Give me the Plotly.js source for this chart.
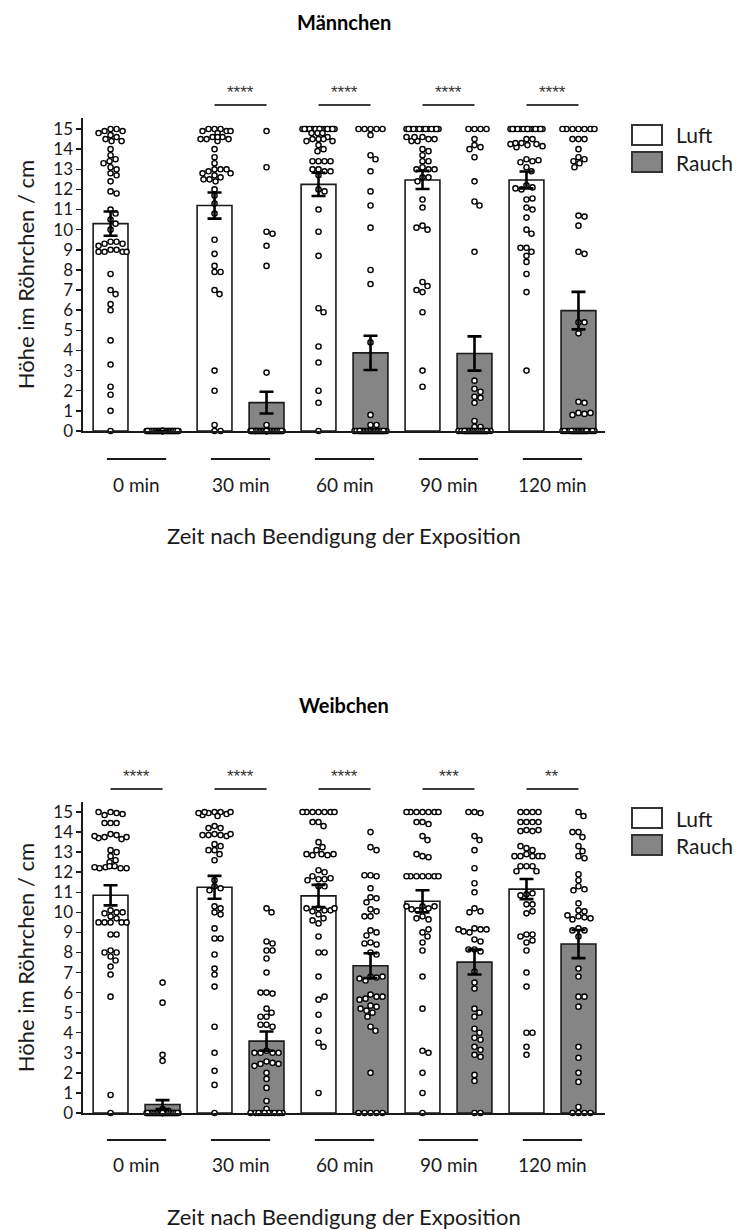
<!DOCTYPE html>
<html>
<head>
<meta charset="utf-8">
<script src="https://cdn.plot.ly/plotly-3.0.1.min.js"></script>
<style>html,body{margin:0;padding:0;background:#fff;}#chart{width:737px;height:1230px;}</style>
</head>
<body>
<div id="chart"></div>
<script>
// ---------------- DATA ----------------
const groups = ['0 min', '30 min', '60 min', '90 min', '120 min'];
const seriesNames = ['Luft', 'Rauch'];
const panelTitles = ['Männchen', 'Weibchen'];

// Männchen: means and SEM
const mLuftMean = [10.3, 11.2, 12.25, 12.47, 12.47];
const mLuftSem = [0.6, 0.65, 0.58, 0.45, 0.42];
const mRauchMean = [0, 1.41, 3.88, 3.85, 5.98];
const mRauchSem = [0, 0.54, 0.85, 0.85, 0.93];
const mStars = ['', '****', '****', '****', '****'];

// Weibchen: means and SEM
const wLuftMean = [10.85, 11.25, 10.82, 10.55, 11.16];
const wLuftSem = [0.5, 0.57, 0.55, 0.55, 0.5];
const wRauchMean = [0.42, 3.58, 7.34, 7.52, 8.42];
const wRauchSem = [0.22, 0.48, 0.62, 0.62, 0.7];
const wStars = ['****', '****', '****', '***', '**'];

// Individual values, Männchen
const mLuft0 = [15.0,15.0,14.9,14.9,14.8,14.7,14.6,14.5,14.4,14.4,14.0,13.7,13.5,13.4,13.3,13.1,13.0,12.8,12.7,12.4,11.9,11.8,11.0,10.8,10.5,10.3,10.0,9.4,9.4,9.3,9.3,9.2,9.0,9.0,8.9,8.9,8.9,8.9,7.8,7.0,6.8,6.3,6.0,4.5,3.3,2.2,1.8,1.0,0];
const mRauch0 = [0,0,0,0,0,0,0,0,0,0,0,0,0,0,0,0,0,0,0,0,0,0,0,0,0,0,0,0,0,0,0,0,0,0,0,0,0,0,0,0];
const mLuft30 = [15.0,15.0,15.0,14.9,14.9,14.9,14.8,14.6,14.6,14.5,14.5,14.5,14.4,14.6,14.0,13.6,13.3,13.0,13.0,12.9,13.0,12.8,12.7,12.8,12.6,12.5,12.4,12.5,12.0,11.7,11.3,10.8,9.5,8.8,8.2,7.9,7.9,7.0,6.8,3.0,2.0,0.3,0,0];
const mRauch30 = [14.9,13.1,9.9,9.8,9.2,8.2,2.9,0.3,0,0,0,0,0,0,0,0,0,0,0,0,0,0,0,0,0,0,0,0,0,0,0,0,0,0,0,0,0,0,0,0,0,0,0,0,0,0,0,0];
const mLuft60 = [15,15,15,15,15,15,15,15,15,15,15,15,15,15,14.8,14.8,14.8,14.6,14.5,14.5,14.4,14.4,14.5,14.2,14.0,13.9,13.4,13.4,13.4,13.4,13.0,12.9,13.0,12.9,12.7,12.0,11.9,11.0,9.9,8.7,6.1,5.9,4.2,3.4,2.0,1.4,0];
const mRauch60 = [15,15,15,15,15,14.7,13.7,13.5,12.9,11.9,11.2,10.1,8.0,7.3,4.4,0.8,0.3,0.3,0,0,0,0,0,0,0,0,0,0,0,0,0,0,0,0,0,0,0,0,0,0,0,0,0,0,0,0,0,0];
const mLuft90 = [15,15,15,15,15,15,15,15,15,15,15,15,15,14.6,14.5,14.4,14.4,14.5,14.6,14.6,14.0,13.9,13.7,13.4,13.4,13.1,13.0,13.0,13.0,12.6,12.6,12.4,11.5,11.1,10.2,10.0,10.1,7.4,7.2,6.9,7.0,5.9,3.0,2.2];
const mRauch90 = [15,15,15,15,14.5,14.2,14.1,14.0,13.6,12.4,11.4,11.2,8.9,2.5,2.1,1.95,1.7,1.65,1.4,0.5,0.2,0.2,0,0,0,0,0,0,0,0,0,0,0,0,0,0,0,0,0,0,0,0,0,0,0,0,0,0,0,0];
const mLuft120 = [15,15,15,15,15,15,15,15,15,15,15,15,15,15,14.5,14.5,14.3,14.25,14.2,14.1,14.15,14.25,14.3,13.5,13.4,13.35,13.45,13.1,12.9,12.2,12.1,12.0,12.05,11.5,11.55,11.1,11.0,10.6,10.0,9.8,9.1,8.9,9.1,8.7,8.4,7.8,6.9,3.0];
const mRauch120 = [15,15,15,15,15,15,15,14.5,14.5,14.5,14.0,13.6,13.5,13.4,13.3,13.1,10.7,10.65,10.2,8.9,8.8,5.4,5.4,4.85,1.45,1.4,0.9,0.85,0.8,0.9,0,0,0,0,0,0,0,0,0,0,0,0,0,0,0,0,0,0,0,0,0,0,0,0];

// Individual values, Weibchen
const wLuft0 = [15.0,14.95,14.85,14.9,15.0,14.45,14.45,14.45,13.9,13.85,13.75,13.65,13.7,13.75,13.8,13.1,13.0,12.8,12.6,12.5,12.3,12.25,12.2,12.2,12.2,12.25,12.3,10.1,10.0,9.95,10.0,9.8,9.7,9.5,9.5,9.5,9.5,9.5,8.9,8.9,8.1,8.0,8.0,7.8,7.6,7.3,6.9,5.8,0.9,0];
const wRauch0 = [6.5,5.5,2.9,2.6,0.2,0.1,0,0,0,0,0,0,0,0,0,0,0,0,0,0,0,0,0,0,0,0,0,0,0,0,0,0,0,0,0,0,0,0,0,0,0,0];
const wLuft30 = [15.0,15.0,14.95,14.9,14.85,14.8,14.95,15.0,15.0,14.3,14.2,14.2,13.9,13.85,13.85,13.8,13.85,13.9,13.4,13.3,13.1,13.1,12.9,12.6,11.6,11.3,11.2,11.1,10.3,10.2,10.0,9.9,9.2,8.7,8.7,7.9,7.2,6.9,6.3,4.3,3.0,2.1,1.4,0];
const wRauch30 = [10.2,10.0,8.55,8.45,8.1,8.1,7.7,7.0,6.0,5.95,6.0,5.2,5.0,4.8,4.8,4.4,4.3,4.4,3.1,3.0,3.0,3.0,3.0,2.57,2.5,2.45,2.45,2.35,2.0,1.7,1.25,0.6,0.2,0,0,0,0,0,0,0,0,0,0,0,0];
const wLuft60 = [15,15,15,15,15,15,15,14.5,14.3,14.5,13.5,13.25,13.1,12.9,12.85,12.85,12.9,12.9,12.1,12.0,11.65,11.8,11.65,11.7,11.6,11.3,11.3,10.2,10.1,10.05,10.1,10.2,10.2,9.9,9.7,9.45,9.6,8.8,8.0,8.0,6.8,5.65,5.8,4.9,4.1,3.5,3.3,1.0];
const wRauch60 = [14.0,13.25,13.1,11.85,11.8,11.85,11.2,10.75,10.7,10.5,10.15,10.05,9.8,9.8,9.1,9.0,8.85,8.5,8.4,8.45,8.0,7.9,6.8,6.75,6.6,6.7,6.8,5.9,5.8,5.7,5.65,5.8,5.35,5.3,5.1,5.0,5.2,4.8,4.3,4.1,2.0,0,0,0,0,0];
const wLuft90 = [15,15,15,15,15,15,15,14.5,14.4,14.5,13.8,13.6,12.8,12.75,12.9,11.8,11.8,11.8,11.8,11.8,11.8,11.8,10.3,10.2,10.1,10.15,10.3,10.3,9.8,9.65,9.7,9.0,9.15,8.8,8.5,8.1,6.8,5.2,3.1,3.0,2.0,1.0,0];
const wRauch90 = [15.0,14.95,15.0,13.8,13.6,13.1,12.2,11.45,11.0,10.2,10.05,10.0,9.2,9.15,9.0,9.05,9.15,9.15,8.65,8.55,8.15,8.05,8.15,7.05,6.5,6.2,5.2,5.0,4.8,4.2,4.0,3.75,3.65,3.3,3.15,2.9,2.8,1.9,1.6,0,0];
const wLuft120 = [15,15,15,15,14.5,14.5,14.5,14.5,14.1,14.05,14.05,14.1,13.2,13.1,13.3,12.9,12.8,12.8,12.8,12.8,12.8,12.3,12.3,12.3,12.05,12.05,10.9,10.95,10.85,10.4,10.4,9.95,10.05,8.9,8.5,8.6,8.8,8.9,8.1,7.0,6.3,4.0,4.0,3.3,2.9];
const wRauch120 = [15.0,14.8,14.0,13.75,14.0,13.3,12.8,12.7,13.05,11.9,11.6,11.3,11.15,11.1,10.45,10.1,10.05,9.8,9.75,9.65,9.7,9.85,9.2,9.1,9.1,8.8,7.2,6.8,5.8,5.8,5.3,3.3,2.75,2.0,1.55,0.3,0,0,0,0];

const mLuftPts = [mLuft0, mLuft30, mLuft60, mLuft90, mLuft120];
const mRauchPts = [mRauch0, mRauch30, mRauch60, mRauch90, mRauch120];
const wLuftPts = [wLuft0, wLuft30, wLuft60, wLuft90, wLuft120];
const wRauchPts = [wRauch0, wRauch30, wRauch60, wRauch90, wRauch120];

// ---------------- LAYOUT GEOMETRY ----------------
const W = 737, H = 1230;
const FONT = 'Lato, "Open Sans", sans-serif';
const STARFONT = '"Liberation Sans", sans-serif';
const xRange = [-0.53, 9.51];
const xDom = [83 / W, 605 / W];
const panels = [
  {yTop: 118, yBot: 431, yMax: 15.547, ax: '', title: 22, star: 93, sig: 105, cat: 459, catLbl: 484, xt: 535, leg: 125},
  {yTop: 802, yBot: 1113, yMax: 15.5, ax: '2', title: 705, star: 776, sig: 789, cat: 1140, catLbl: 1164, xt: 1216, leg: 808}
];
const py = p => 1 - p / H;
const px = p => p / W;
const xUnitPx = (605 - 83) / (xRange[1] - xRange[0]);

function swarm(center, vals, yUnitPx) {
  const placed = [], xs = [];
  const d = 6.0, maxOff = 16;
  const cands = [0];
  for (let k = 1; k <= maxOff; k++) { cands.push(k); cands.push(-k); }
  vals.forEach(v => {
    const yp = v * yUnitPx;
    let best = 0, bestScore = -1;
    for (const off of cands) {
      let mind = Infinity;
      for (const p of placed) {
        const dd = Math.hypot(p[0] - off, p[1] - yp);
        if (dd < mind) mind = dd;
      }
      if (mind >= d) { best = off; bestScore = Infinity; break; }
      if (mind > bestScore) { bestScore = mind; best = off; }
    }
    placed.push([best, yp]);
    xs.push(center + best / xUnitPx);
  });
  return xs;
}

const traces = [];
const shapes = [];
const annotations = [];

const data = [
  {luftMean: mLuftMean, luftSem: mLuftSem, rauchMean: mRauchMean, rauchSem: mRauchSem, luftPts: mLuftPts, rauchPts: mRauchPts, stars: mStars},
  {luftMean: wLuftMean, luftSem: wLuftSem, rauchMean: wRauchMean, rauchSem: wRauchSem, luftPts: wLuftPts, rauchPts: wRauchPts, stars: wStars}
];

panels.forEach((P, pi) => {
  const D = data[pi];
  const xa = 'x' + P.ax, ya = 'y' + P.ax;
  const yUnitPx = (P.yBot - P.yTop) / P.yMax;
  const means = [D.luftMean, D.rauchMean];
  const sems = [D.luftSem, D.rauchSem];
  const pts = [D.luftPts, D.rauchPts];
  const fills = ['#ffffff', '#858585'];

  seriesNames.forEach((s, si) => {
    traces.push({
      type: 'bar', xaxis: xa, yaxis: ya, name: s,
      x: groups.map((g, gi) => 2 * gi + si), y: means[si],
      width: 0.67,
      marker: {color: fills[si], line: {color: '#1a1a1a', width: 1.6}},
      hoverinfo: 'skip', showlegend: false
    });
  });
  seriesNames.forEach((s, si) => {
    let xs = [], ys = [];
    pts[si].forEach((vals, gi) => {
      xs = xs.concat(swarm(2 * gi + si, vals, yUnitPx));
      ys = ys.concat(vals);
    });
    traces.push({
      type: 'scatter', mode: 'markers', xaxis: xa, yaxis: ya, x: xs, y: ys,
      marker: {symbol: 'circle', size: 5.2, color: '#ffffff', line: {color: '#000', width: 1.4}},
      cliponaxis: false, hoverinfo: 'skip', showlegend: false
    });
  });
  seriesNames.forEach((s, si) => {
    traces.push({
      type: 'scatter', mode: 'markers', xaxis: xa, yaxis: ya,
      x: groups.map((g, gi) => 2 * gi + si), y: means[si],
      marker: {size: 2, color: 'rgba(0,0,0,0)'},
      error_y: {type: 'data', array: sems[si].map(v => v > 0 ? v : null), color: '#000', thickness: 2.6, width: 7},
      cliponaxis: false, hoverinfo: 'skip', showlegend: false
    });
  });

  D.stars.forEach((st, gi) => {
    if (!st) return;
    shapes.push({type: 'line', xref: xa, yref: 'paper', x0: 2 * gi, x1: 2 * gi + 1, y0: py(P.sig), y1: py(P.sig), line: {color: '#3a3a3a', width: 2.2}});
    annotations.push({xref: xa, yref: 'paper', x: 2 * gi + 0.5, y: py(P.star), text: st, showarrow: false, font: {family: STARFONT, size: 17, color: '#333333'}, xanchor: 'center', yanchor: 'middle'});
  });
  groups.forEach((g, gi) => {
    shapes.push({type: 'line', xref: xa, yref: 'paper', x0: 2 * gi + 0.5 - 0.57, x1: 2 * gi + 0.5 + 0.57, y0: py(P.cat), y1: py(P.cat), line: {color: '#1a1a1a', width: 2}});
    annotations.push({xref: xa, yref: 'paper', x: 2 * gi + 0.5, y: py(P.catLbl), text: g, showarrow: false, font: {family: FONT, size: 19, color: '#1a1a1a'}, xanchor: 'center', yanchor: 'middle'});
  });
  annotations.push({xref: 'paper', yref: 'paper', x: px(344), y: py(P.title), text: '<b>' + panelTitles[pi] + '</b>', showarrow: false, font: {family: FONT, size: 20, color: '#000'}, xanchor: 'center', yanchor: 'middle'});
  annotations.push({xref: 'paper', yref: 'paper', x: px(344), y: py(P.xt), text: 'Zeit nach Beendigung der Exposition', showarrow: false, font: {family: FONT, size: 22, color: '#1a1a1a'}, xanchor: 'center', yanchor: 'middle'});
  seriesNames.forEach((s, si) => {
    const top = P.leg + si * 27;
    shapes.push({type: 'rect', xref: 'paper', yref: 'paper', x0: px(632), x1: px(662), y0: py(top), y1: py(top + 20), fillcolor: fills[si], line: {color: '#333', width: 2}});
    annotations.push({xref: 'paper', yref: 'paper', x: px(674), y: py(top + 10), text: s, showarrow: false, font: {family: FONT, size: 21, color: '#1a1a1a'}, xanchor: 'left', yanchor: 'middle'});
  });
});

const yTicks = [0,1,2,3,4,5,6,7,8,9,10,11,12,13,14,15];
function xAxis() {
  return {domain: xDom, range: xRange, showticklabels: false, ticks: '', showgrid: false, zeroline: false,
    showline: true, linecolor: '#1a1a1a', linewidth: 1.6, fixedrange: true};
}
function yAxis(P, anchor) {
  return {domain: [py(P.yBot), py(P.yTop)], range: [0, P.yMax], anchor: anchor,
    tickvals: yTicks, ticktext: yTicks.map(String), ticks: 'outside', ticklen: 5, tickwidth: 1.5, tickcolor: '#1a1a1a',
    showline: true, linecolor: '#1a1a1a', linewidth: 1.6, showgrid: false, zeroline: false,
    tickfont: {family: FONT, size: 17, color: '#1a1a1a'},
    title: {text: 'Höhe im Röhrchen / cm', font: {family: FONT, size: 22, color: '#1a1a1a'}, standoff: 12},
    fixedrange: true};
}

const xa1 = xAxis(); xa1.anchor = 'y';
const xa2 = xAxis(); xa2.anchor = 'y2';
const layout = {
  width: W, height: H, margin: {l: 0, r: 0, t: 0, b: 0},
  paper_bgcolor: '#fff', plot_bgcolor: 'rgba(0,0,0,0)',
  barmode: 'overlay', showlegend: false,
  font: {family: FONT},
  xaxis: xa1, yaxis: yAxis(panels[0], 'x'),
  xaxis2: xa2, yaxis2: yAxis(panels[1], 'x2'),
  shapes: shapes, annotations: annotations
};

Plotly.newPlot('chart', traces, layout, {staticPlot: true, displayModeBar: false});
</script>
</body>
</html>
